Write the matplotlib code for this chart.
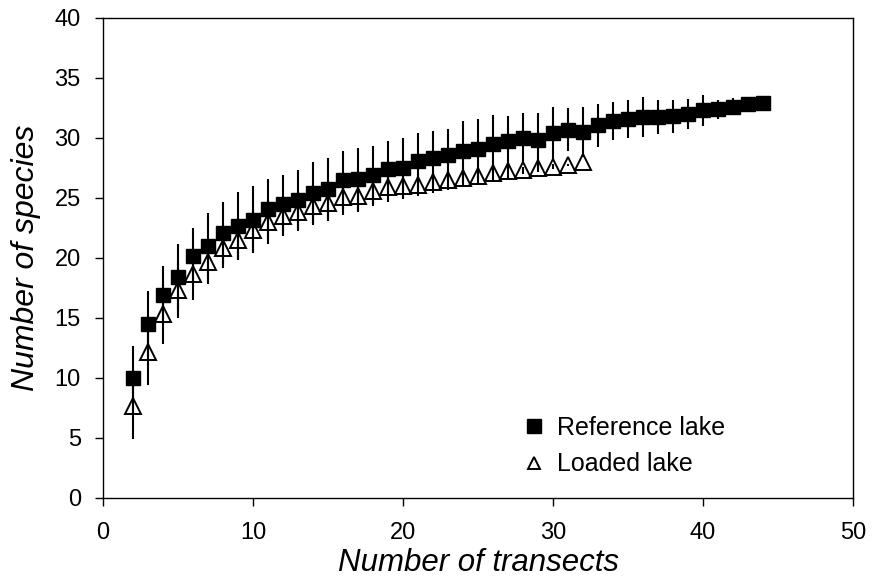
import matplotlib
matplotlib.use("Agg")
import matplotlib.pyplot as plt
from matplotlib.lines import Line2D

plt.rcParams['font.family'] = ['Liberation Sans', 'DejaVu Sans']

ref_x = list(range(2, 45))
ref_y = [10.03, 14.47, 16.9, 18.45, 20.2, 21.0, 22.1, 22.67, 23.2, 24.1,
         24.5, 24.8, 25.4, 25.75, 26.5, 26.55, 26.9, 27.4, 27.5, 28.1,
         28.3, 28.6, 28.9, 29.1, 29.5, 29.75, 29.97, 29.8, 30.4, 30.7,
         30.5, 31.05, 31.4, 31.6, 31.75, 31.75, 31.8, 32.0, 32.3, 32.4,
         32.6, 32.8, 32.95]
ref_sd = [2.65, 2.8, 2.4, 2.75, 2.3, 2.75, 2.6, 2.8, 2.8, 2.5,
          2.4, 2.5, 2.6, 2.6, 2.4, 2.65, 2.4, 2.35, 2.5, 2.3,
          2.3, 2.15, 2.5, 2.45, 2.4, 2.1, 2.1, 2.3, 2.2, 1.8,
          2.05, 1.8, 1.6, 1.6, 1.65, 1.45, 1.4, 1.25, 1.3, 0.8,
          0.7, 0.0, 0.0]

load_x = list(range(2, 33))
load_y = [7.65, 12.2, 15.3, 17.3, 18.7, 19.7, 20.8, 21.5, 22.3, 23.0,
          23.5, 23.8, 24.3, 24.6, 25.05, 25.2, 25.6, 25.9, 26.0, 26.1,
          26.3, 26.5, 26.7, 26.8, 27.1, 27.25, 27.3, 27.5, 27.6, 27.75,
          28.0]
load_sd = [2.7, 2.8, 2.5, 2.3, 2.2, 1.9, 1.6, 1.7, 1.8, 1.8,
           1.7, 1.55, 1.55, 1.5, 1.45, 1.4, 1.3, 1.2, 1.1, 0.9,
           0.9, 0.8, 0.8, 0.7, 0.7, 0.7, 0.3, 0.3, 0.2, 0.1,
           0.0]

x_ticks = [0, 10, 20, 30, 40, 50]
y_ticks = [0, 5, 10, 15, 20, 25, 30, 35, 40]

fig = plt.figure(figsize=(8.72, 5.78), dpi=100)
ax = fig.add_axes([103/872, 1-498/578, 750/872, 480/578])

ax.plot(load_x, load_y, linestyle='none', marker='^', markersize=11,
        markerfacecolor='white', markeredgecolor='black', markeredgewidth=1.4, zorder=2)
ax.plot(ref_x, ref_y, linestyle='none', marker='s', markersize=10.5,
        markerfacecolor='black', markeredgecolor='black', zorder=2.5)
ax.errorbar(load_x, load_y, yerr=load_sd, fmt='none', ecolor='black', elinewidth=1.5, capsize=0, zorder=3)
ax.errorbar(ref_x, ref_y, yerr=ref_sd, fmt='none', ecolor='black', elinewidth=1.5, capsize=0, zorder=3)

ax.set_xlim(0, 50)
ax.set_ylim(0, 40)
ax.set_xticks(x_ticks)
ax.set_yticks(y_ticks)
ax.tick_params(direction='out', length=6, width=1, labelsize=17, color='black')
ax.tick_params(axis='x', pad=11)
ax.tick_params(axis='y', pad=10)
for s in ax.spines.values():
    s.set_linewidth(1)
    s.set_color('black')

ax.set_xlabel('Number of transects', fontsize=22.5, fontstyle='italic', labelpad=3)
ax.set_ylabel('Number of species', fontsize=23, fontstyle='italic', labelpad=10)

handles = [Line2D([], [], linestyle='none', marker='s', markersize=10.5, color='black'),
           Line2D([], [], linestyle='none', marker='^', markersize=9,
                  markerfacecolor='white', markeredgecolor='black', markeredgewidth=1.4)]
ax.legend(handles, ['Reference lake', 'Loaded lake'], loc='lower left',
          bbox_to_anchor=(0.545, 0.019), frameon=False, fontsize=18,
          handlelength=0.8, handletextpad=0.5, labelspacing=0.5, borderpad=0)

fig.savefig('out.png', dpi=100)
